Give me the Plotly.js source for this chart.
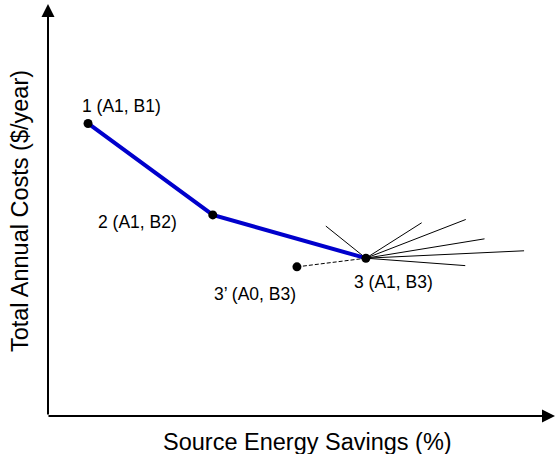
<!DOCTYPE html>
<html>
<head>
<meta charset="utf-8">
<script src="https://cdn.plot.ly/plotly-3.0.1.min.js"></script>
<style>html,body{margin:0;padding:0;background:#fff;}#chart{width:556px;height:454px;}</style>
</head>
<body>
<div id="chart"></div>
<script>
// Main path (blue): options 1, 2, 3
var pathLabels = ["1 (A1, B1)", "2 (A1, B2)", "3 (A1, B3)"];
var pathX = [7.9, 32.5, 62.7];
var pathY = [71.0, 48.8, 38.3];

// Alternative point 3'
var altLabel = "3\u2019 (A0, B3)";
var altX = 49.1;
var altY = 36.2;

// Fan of candidate directions from point 3 (end points)
var fanX = [54.8, 73.7, 82.4, 86.1, 93.9, 82.3];
var fanY = [46.1, 46.9, 47.7, 43.0, 40.1, 36.5];

// Label positions
var labelX = [14.5, 17.7, 68.2, 40.8];
var labelY = [75.2, 47.2, 32.5, 29.6];

var xTitle = "Source Energy Savings (%)";
var yTitle = "Total Annual Costs ($/year)";

var p3x = pathX[2], p3y = pathY[2];
var fx = [], fy = [];
for (var i = 0; i < fanX.length; i++) {
  fx.push(p3x, fanX[i], null);
  fy.push(p3y, fanY[i], null);
}

var traces = [
  {x: fx, y: fy, mode: 'lines', line: {color: '#000', width: 1}, hoverinfo: 'skip', cliponaxis: false},
  {x: [altX, p3x], y: [altY, p3y], mode: 'lines', line: {color: '#000', width: 1, dash: '4px,2px'}, hoverinfo: 'skip'},
  {x: pathX, y: pathY, mode: 'lines', line: {color: '#0000CC', width: 4}, hoverinfo: 'skip'},
  {x: pathX.concat([altX]), y: pathY.concat([altY]), mode: 'markers', marker: {color: '#000', size: 9}, hoverinfo: 'skip'}
];

var allLabels = pathLabels.concat([altLabel]);
var annotations = [];
for (var j = 0; j < allLabels.length; j++) {
  annotations.push({x: labelX[j], y: labelY[j], xref: 'x', yref: 'y', text: allLabels[j], showarrow: false,
    font: {family: 'Liberation Sans, Arial, sans-serif', size: 17.5, color: '#000'}, xanchor: 'center', yanchor: 'middle'});
}
// axis arrows
annotations.push({x: 100, y: 0, ax: -0.2, ay: 0, xref: 'x', yref: 'y', axref: 'x', ayref: 'y', showarrow: true,
  arrowhead: 2, arrowsize: 1.3, arrowwidth: 2, arrowcolor: '#000', standoff: 0, text: ''});
annotations.push({x: 0, y: 100, ax: 0, ay: 0, xref: 'x', yref: 'y', axref: 'x', ayref: 'y', showarrow: true,
  arrowhead: 2, arrowsize: 1.3, arrowwidth: 2, arrowcolor: '#000', standoff: 0, text: ''});
// axis titles
annotations.push({x: 0.511, y: -0.063, xref: 'paper', yref: 'paper', text: xTitle, showarrow: false,
  font: {family: 'Liberation Sans, Arial, sans-serif', size: 23.5, color: '#000'}, xanchor: 'center', yanchor: 'middle'});
annotations.push({x: -0.055, y: 0.4976, xref: 'paper', yref: 'paper', text: yTitle, showarrow: false, textangle: -90,
  font: {family: 'Liberation Sans, Arial, sans-serif', size: 23.5, color: '#000'}, xanchor: 'center', yanchor: 'middle'});

var layout = {
  width: 556, height: 454,
  margin: {l: 48, r: 1, t: 4, b: 38},
  paper_bgcolor: '#fff', plot_bgcolor: '#fff',
  showlegend: false,
  xaxis: {range: [0, 100], showgrid: false, zeroline: false, showticklabels: false, showline: false, ticks: '', fixedrange: true},
  yaxis: {range: [0, 100], showgrid: false, zeroline: false, showticklabels: false, showline: false, ticks: '', fixedrange: true},
  annotations: annotations
};

Plotly.newPlot('chart', traces, layout, {displayModeBar: false, staticPlot: true});
</script>
</body>
</html>
